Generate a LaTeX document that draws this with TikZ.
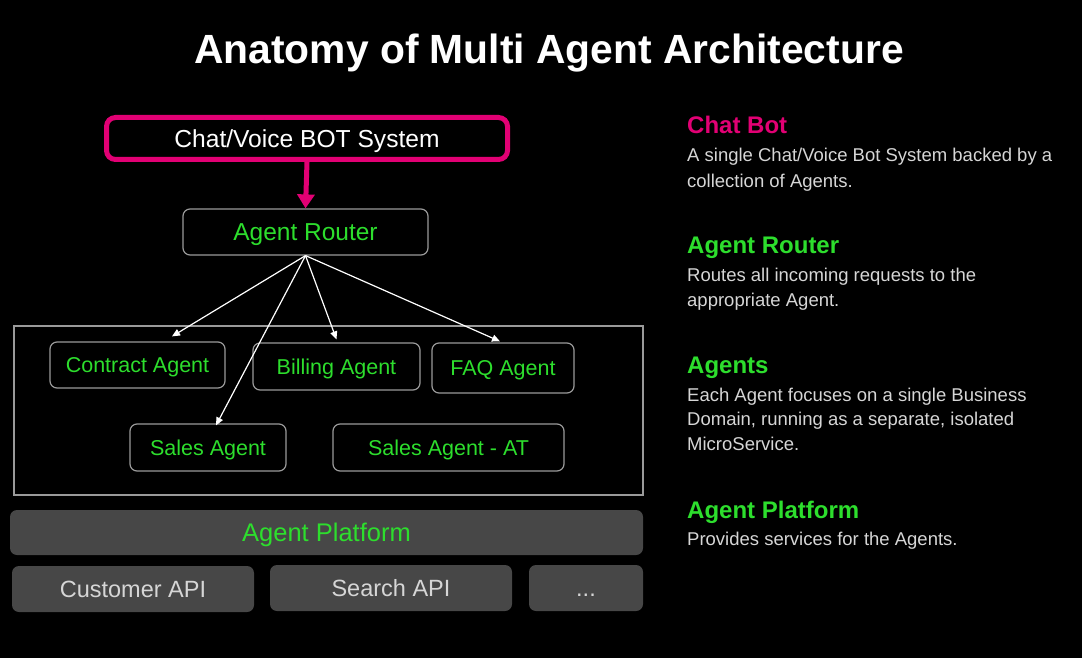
\documentclass[tikz,border=0pt]{standalone}
\usepackage{fontspec}
\setmainfont{Liberation Sans}
\usetikzlibrary{arrows.meta,calc}
\definecolor{tmag}{HTML}{E20074}
\definecolor{tgreen}{RGB}{45,222,45}
\definecolor{boxgray}{HTML}{9A9A9A}
\definecolor{fillgray}{HTML}{474747}
\definecolor{txtgray}{HTML}{D6D6D6}
\newcommand{\fs}[1]{\fontsize{#1}{#1}\selectfont}
\tikzset{
  agentbox/.style={draw=boxgray, line width=1.2pt, rounded corners=7pt, text=tgreen, font=\fs{21.5}, inner sep=0pt, text height=15.4pt, text depth=0pt},
  apibox/.style={fill=fillgray, rounded corners=7pt, text=txtgray, font=\fs{23.5}, inner sep=0pt, text height=16.8pt, text depth=0pt},
  heading/.style={anchor=base west, inner sep=0pt, font=\bfseries\fs{24}},
  body/.style={anchor=base west, inner sep=0pt, text=txtgray, font=\fs{18.5}},
  wire/.style={white, line width=1.2pt, -{Triangle[length=8pt,width=7pt]}}
}
\begin{document}
\begin{tikzpicture}[x=1pt,y=-1pt]
\fill[black] (0,0) rectangle (1082,658);
\useasboundingbox (0,0) rectangle (1082,658);

% title
\node[text=white, font=\bfseries\fs{40.8}, inner sep=0pt, text height=29.2pt, text depth=0pt] (title) at (549,49) {Anatomy of Multi Agent Architecture};

% chat bot
\node[draw=tmag, line width=5pt, rounded corners=9pt, minimum width=401pt, minimum height=42pt, inner sep=0pt, text=white, font=\fs{24.6}, text height=17.6pt, text depth=0pt] (chat) at (307,138.5) {Chat/Voice BOT System};

% router
\node[agentbox, minimum width=245pt, minimum height=46pt, font=\fs{24.5}, text height=17.5pt] (router) at (305.5,232) {Agent Router};

\draw[tmag, line width=5pt, -{Triangle[length=14pt,width=17pt]}] (chat.south) -- (router.north);

% container
\node[draw=boxgray, line width=1.2pt, minimum width=629pt, minimum height=169pt, inner sep=0pt] (cont) at (328.5,410.5) {};

% agents
\node[agentbox, minimum width=175pt, minimum height=46pt] (contract) at (137.5,365) {Contract Agent};
\node[agentbox, minimum width=167pt, minimum height=47pt] (billing) at (336.5,366.5) {Billing Agent};
\node[agentbox, minimum width=142pt, minimum height=50pt] (faq) at (503,368) {FAQ Agent};
\node[agentbox, minimum width=156pt, minimum height=47pt] (sales) at (208,447.5) {Sales Agent};
\node[agentbox, minimum width=231pt, minimum height=47pt] (salesat) at (448.5,447.5) {Sales Agent - AT};

% router wires
\draw[wire] (router.south) -- ($(contract.north)+(34.5,-5)$);
\draw[wire] (router.south) -- ($(sales.north)+(8,2)$);
\draw[wire] (router.south) -- ($(billing.north)+(0,-3)$);
\draw[wire] (router.south) -- ($(faq.north)+(-3,-1)$);

% platform
\node[apibox, minimum width=633pt, minimum height=45pt, text=tgreen, font=\fs{25.5}, text height=18.3pt] (platform) at (326.5,532.5) {Agent Platform};
\node[apibox, minimum width=242pt, minimum height=46pt] (custapi) at (133,589) {Customer API};
\node[apibox, minimum width=242pt, minimum height=46pt] (searchapi) at (391,588) {Search API};
\node[apibox, minimum width=114pt, minimum height=46pt] (more) at (586,588) {...};

% right side text
\node[heading, text=tmag] (h1) at (687,134) {Chat Bot};
\node[body] (b11) at (687,162) {A single Chat/Voice Bot System backed by a};
\node[body] (b12) at (687,187) {collection of Agents.};

\node[heading, text=tgreen] (h2) at (687,253) {Agent Router};
\node[body] (b21) at (687,281) {Routes all incoming requests to the};
\node[body] (b22) at (687,306) {appropriate Agent.};

\node[heading, text=tgreen] (h3) at (687,373) {Agents};
\node[body] (b31) at (687,401) {Each Agent focuses on a single Business};
\node[body] (b32) at (687,425) {Domain, running as a separate, isolated};
\node[body] (b33) at (687,450) {MicroService.};

\node[heading, text=tgreen] (h4) at (687,518) {Agent Platform};
\node[body] (b41) at (687,545) {Provides services for the Agents.};
\end{tikzpicture}
\end{document}
